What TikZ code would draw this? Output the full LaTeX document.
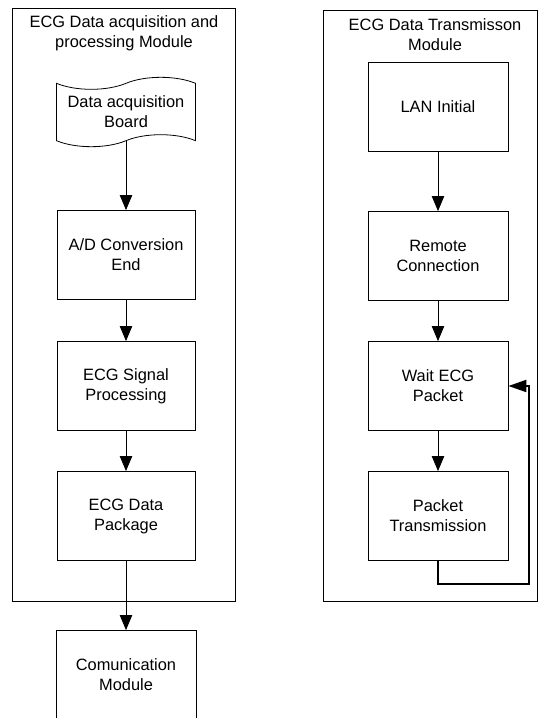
\documentclass[tikz,border=0pt]{standalone}
\usepackage{fontspec}
\setmainfont{Liberation Sans}
\usetikzlibrary{shapes.symbols,arrows.meta}
\begin{document}
\begin{tikzpicture}[x=0.5pt,y=-0.5pt,font=\fontsize{8.2}{10}\selectfont,
	blk/.style={draw,align=center,minimum width=69pt,minimum height=44.5pt,inner sep=1pt},
	arr/.style={-{Triangle[length=7.5pt,width=6.2pt]}},
	loopline/.style={line width=1pt,-{Triangle[length=9pt,width=6pt]}}]
				\useasboundingbox (0,0) rectangle (539,718);
				% module frames
				\draw (12,8) rectangle (235,601);
				\draw (323,10) rectangle (537,601);
				\node[align=center] (acqtitle) at (124,33) {ECG Data acquisition and\\processing Module};
				\node[align=center] (txtitle) at (435,35) {ECG Data Transmisson\\Module};
				% acquisition chain
				\node[draw,tape,align=center,minimum width=69.5pt,minimum height=34.5pt,tape bend height=6pt] (board) at (126,112) {Data acquisition\\Board};
				\node[blk] (ad) at (126,255) {A/D Conversion\\End};
				\node[blk] (sig) at (126,386) {ECG Signal\\Processing};
				\node[blk] (pack) at (126,516) {ECG Data\\Package};
				\node[blk,minimum width=70pt] (comm) at (126,675) {Comunication\\Module};
				% transmission chain
				\node[blk,minimum width=70pt] (lan) at (438,107) {LAN Initial};
				\node[blk,minimum width=70pt] (remote) at (438,256) {Remote\\Connection};
				\node[blk,minimum width=70pt] (wait) at (438,386) {Wait ECG\\Packet};
				\node[blk,minimum width=70pt] (trans) at (438,516) {Packet\\Transmission};
				\foreach \a/\b in {board/ad,ad/sig,sig/pack,pack/comm,lan/remote,remote/wait,wait/trans}
					{\draw[arr] (\a.south) -- (\b.north);}
				\coordinate (lc) at (529,584);
				\draw[loopline] (trans.south) |- (lc) |- (wait.east);
				\end{tikzpicture}
\end{document}
